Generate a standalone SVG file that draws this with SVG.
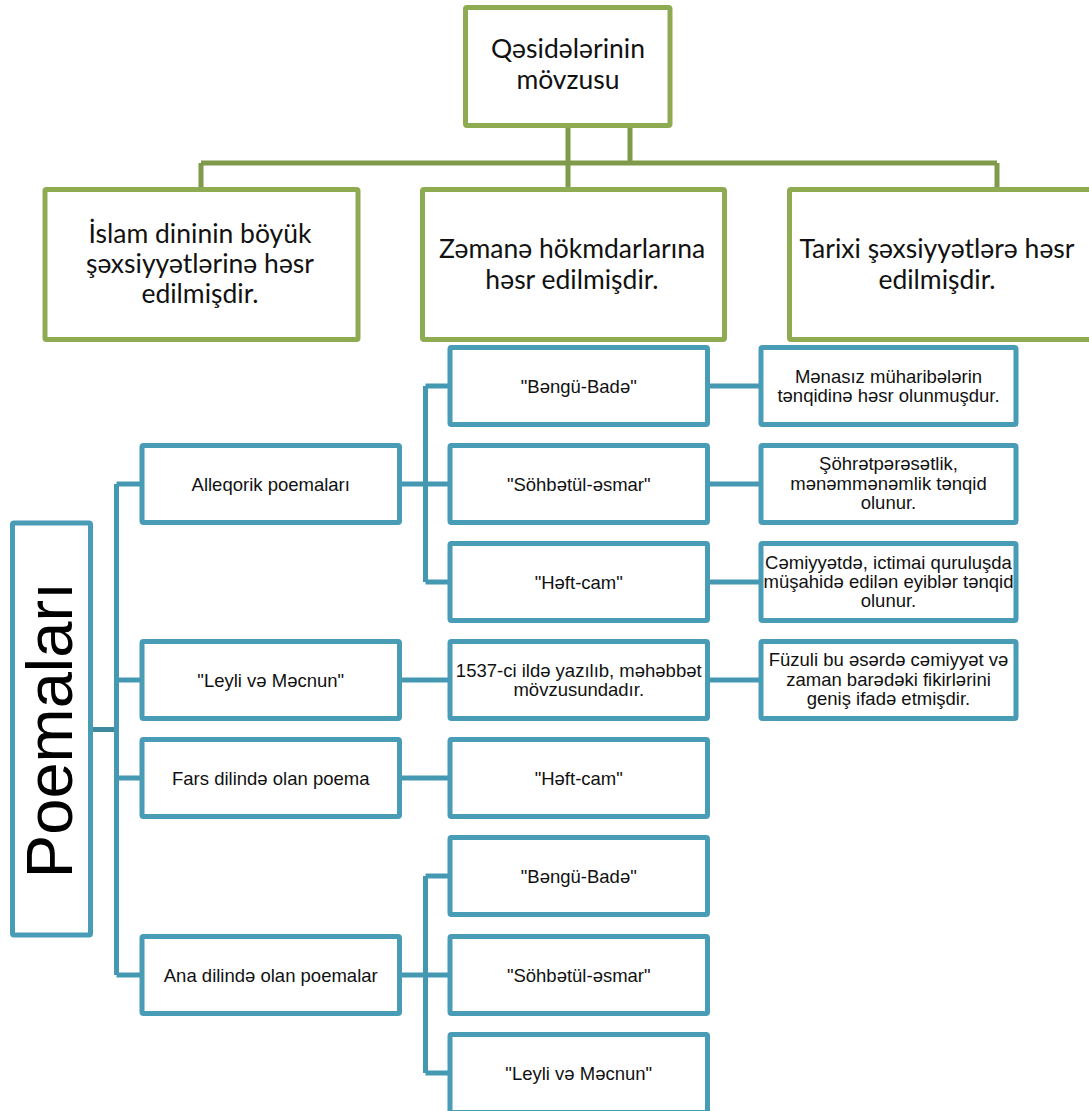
<svg xmlns="http://www.w3.org/2000/svg" width="1089" height="1111" viewBox="0 0 1089 1111">
<style>
.g{fill:#fff;stroke:#8FAB52;stroke-width:5}
.b{fill:#fff;stroke:#499CB5;stroke-width:5}
.gc{fill:none;stroke:#7E9A4A;stroke-width:5}
.bc{fill:none;stroke:#4498B2;stroke-width:5}
.tg{font-family:Lato,"Open Sans",sans-serif;font-size:26.5px;fill:#111;text-anchor:middle}
.tb{font-family:"Liberation Sans",Arial,sans-serif;font-size:18.5px;fill:#111;text-anchor:middle}
.tp{font-family:"Liberation Sans",Arial,sans-serif;font-size:65px;fill:#000;text-anchor:middle}
</style>
<rect width="1089" height="1111" fill="#fff"/>
<g id="connectors">
  <path class="gc" d="M568,126 V190 M630,126 V163 M201,163 H997 M201,163 V190 M997,163 V190"/>
  <path class="bc" style="stroke:#3E88A0" d="M90,729.5 H117"/>
  <path class="bc" d="M116.5,484 V975 M116.5,484 H142 M116.5,680 H142 M116.5,778 H142 M116.5,975 H142"/>
  <path class="bc" d="M399.5,484 H425.5 M425.5,386 V582 M425.5,386 H450 M425.5,484 H450 M425.5,582 H450"/>
  <path class="bc" d="M399.5,680 H450 M399.5,778 H450"/>
  <path class="bc" d="M399.5,975 H425.5 M425.5,876 V1073 M425.5,876 H450 M425.5,975 H450 M425.5,1073 H450"/>
  <path class="bc" d="M707.5,386 H761 M707.5,484 H761 M707.5,582 H761 M707.5,680 H761"/>
</g>
<g id="n-top"><rect class="g" x="465.5" y="7.5" width="204.5" height="118" rx="1.5"/>
  <text class="tg" x="568" y="58">Qəsidələrinin</text><text class="tg" x="568" y="89">mövzusu</text></g>
<g id="n-islam"><rect class="g" x="45" y="189.5" width="313" height="150" rx="1.5"/>
  <text class="tg" x="200" y="243">İslam dininin böyük</text><text class="tg" x="200" y="273">şəxsiyyətlərinə həsr</text><text class="tg" x="200" y="303">edilmişdir.</text></g>
<g id="n-zamana"><rect class="g" x="422.5" y="189.5" width="302" height="150" rx="1.5"/>
  <text class="tg" x="572" y="258">Zəmanə hökmdarlarına</text><text class="tg" x="572" y="289">həsr edilmişdir.</text></g>
<g id="n-tarixi"><rect class="g" x="789.5" y="189.5" width="310" height="150" rx="1.5"/>
  <text class="tg" x="937" y="258">Tarixi şəxsiyyətlərə həsr</text><text class="tg" x="937" y="289">edilmişdir.</text></g>

<g id="n-poemalari"><rect class="b" x="12.5" y="523" width="78" height="412" rx="1.5"/>
  <text class="tp" transform="translate(72,730) rotate(-90)">Poemaları</text></g>

<g id="n-alleqorik"><rect class="b" x="142" y="445.5" width="257.5" height="77" rx="1.5"/><text class="tb" x="270.75" y="490.5">Alleqorik poemaları</text></g>
<g id="n-leyli1"><rect class="b" x="142" y="641.5" width="257.5" height="77" rx="1.5"/><text class="tb" x="270.75" y="686.5">"Leyli və Məcnun"</text></g>
<g id="n-fars"><rect class="b" x="142" y="739.5" width="257.5" height="77" rx="1.5"/><text class="tb" x="270.75" y="784.5">Fars dilində olan poema</text></g>
<g id="n-ana"><rect class="b" x="142" y="936.5" width="257.5" height="77" rx="1.5"/><text class="tb" x="270.75" y="981.5">Ana dilində olan poemalar</text></g>

<g id="n-bengu1"><rect class="b" x="450" y="347.5" width="257.5" height="77" rx="1.5"/><text class="tb" x="578.75" y="392.5">"Bəngü-Badə"</text></g>
<g id="n-sohbet1"><rect class="b" x="450" y="445.5" width="257.5" height="77" rx="1.5"/><text class="tb" x="578.75" y="490.5">"Söhbətül-əsmar"</text></g>
<g id="n-heft1"><rect class="b" x="450" y="543.5" width="257.5" height="77" rx="1.5"/><text class="tb" x="578.75" y="588.5">"Həft-cam"</text></g>
<g id="n-1537"><rect class="b" x="450" y="641.5" width="257.5" height="77" rx="1.5"/><text class="tb" x="578.75" y="677">1537-ci ildə yazılıb, məhəbbət</text><text class="tb" x="578.75" y="696">mövzusundadır.</text></g>
<g id="n-heft2"><rect class="b" x="450" y="739.5" width="257.5" height="77" rx="1.5"/><text class="tb" x="578.75" y="784.5">"Həft-cam"</text></g>
<g id="n-bengu2"><rect class="b" x="450" y="837.5" width="257.5" height="77" rx="1.5"/><text class="tb" x="578.75" y="882.5">"Bəngü-Badə"</text></g>
<g id="n-sohbet2"><rect class="b" x="450" y="936.5" width="257.5" height="77" rx="1.5"/><text class="tb" x="578.75" y="981.5">"Söhbətül-əsmar"</text></g>
<g id="n-leyli2"><rect class="b" x="450" y="1034.5" width="257.5" height="78" rx="1.5"/><text class="tb" x="578.75" y="1079.5">"Leyli və Məcnun"</text></g>

<g id="n-r1"><rect class="b" x="761" y="347.5" width="255" height="77" rx="1.5"/><text class="tb" x="888.5" y="382.5">Mənasız müharibələrin</text><text class="tb" x="888.5" y="402">tənqidinə həsr olunmuşdur.</text></g>
<g id="n-r2"><rect class="b" x="761" y="445.5" width="255" height="77" rx="1.5"/><text class="tb" x="888.5" y="470">Şöhrətpərəsətlik,</text><text class="tb" x="888.5" y="489.5">mənəmmənəmlik tənqid</text><text class="tb" x="888.5" y="509">olunur.</text></g>
<g id="n-r3"><rect class="b" x="761" y="543.5" width="255" height="77" rx="1.5"/><text class="tb" x="888.5" y="568.5">Cəmiyyətdə, ictimai quruluşda</text><text class="tb" x="888.5" y="587.5">müşahidə edilən eyiblər tənqid</text><text class="tb" x="888.5" y="606.5">olunur.</text></g>
<g id="n-r4"><rect class="b" x="761" y="641.5" width="255" height="77" rx="1.5"/><text class="tb" x="888.5" y="666">Füzuli bu əsərdə cəmiyyət və</text><text class="tb" x="888.5" y="685.5">zaman barədəki fikirlərini</text><text class="tb" x="888.5" y="705">geniş ifadə etmişdir.</text></g>
</svg>
